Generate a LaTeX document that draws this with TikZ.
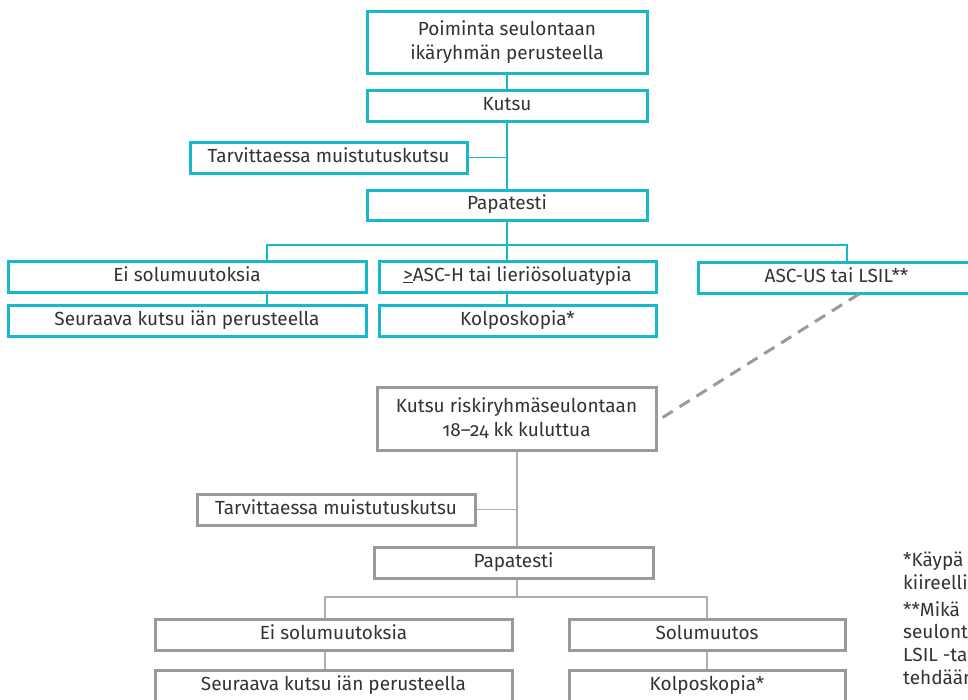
\documentclass[tikz,border=0pt]{standalone}
\usepackage{fontspec}
\setmainfont{Fira Sans}[Numbers=OldStyle]
\definecolor{cy}{HTML}{17B7CC}
\definecolor{gr}{HTML}{9A9A9A}
\definecolor{tx}{HTML}{333333}
\tikzset{
  base/.style={rectangle, inner sep=0pt, text=tx, font=\fontsize{19}{24}\selectfont},
  one/.style={text height=13.5pt, text depth=4pt},
  cbox/.style={base, draw=cy, line width=3pt},
  gbox/.style={base, draw=gr, line width=3pt},
  cline/.style={draw=cy, line width=1.5pt},
  gline/.style={draw=gr!80, line width=1.5pt},
  dline/.style={draw=gr, line width=3pt, dash pattern=on 12pt off 8pt},
  note/.style={anchor=base west, inner sep=0pt, text=tx, font=\fontsize{19}{24}\selectfont}
}
\begin{document}
\begin{tikzpicture}[x=1pt,y=-1pt]
\clip (0,0) rectangle (968,699);
\fill[white] (0,0) rectangle (968,699);
% cyan part
\node[cbox, minimum width=280pt, minimum height=62pt, align=center] (top) at (507,42) {Poiminta seulontaan\\ikäryhmän perusteella};
\node[cbox, one, minimum width=280pt, minimum height=31pt] (kutsu) at (507,105.5) {Kutsu};
\node[cbox, one, minimum width=277pt, minimum height=31pt] (tarv1) at (328.5,157.5) {Tarvittaessa muistutuskutsu};
\node[cbox, one, minimum width=280pt, minimum height=30pt] (papa1) at (507,205) {Papatesti};
\node[cbox, one, minimum width=358pt, minimum height=31pt] (ei1) at (187,276.5) {Ei solumuutoksia};
\node[cbox, one, minimum width=277pt, minimum height=31pt] (asch) at (517.5,276.5) {\underline{>}ASC-H tai lieriösoluatypia};
\node[cbox, one, minimum width=277pt, minimum height=31pt] (ascus) at (836.5,277.5) {ASC-US tai LSIL**};
\node[cbox, one, minimum width=358pt, minimum height=31pt] (seur1) at (187,320.5) {Seuraava kutsu iän perusteella};
\node[cbox, one, minimum width=277pt, minimum height=31pt] (kolp1) at (517.5,320.5) {Kolposkopia*};
% gray part
\node[gbox, minimum width=279pt, minimum height=63pt, align=center] (kr) at (516.5,418.5) {Kutsu riskiryhmäseulontaan\\18–24 kk kuluttua};
\node[gbox, one, minimum width=278pt, minimum height=31pt] (tarv2) at (336,509.5) {Tarvittaessa muistutuskutsu};
\node[gbox, one, minimum width=279pt, minimum height=31pt] (papa2) at (513.5,562.5) {Papatesti};
\node[gbox, one, minimum width=357pt, minimum height=31pt] (ei2) at (333.5,634.5) {Ei solumuutoksia};
\node[gbox, one, minimum width=276pt, minimum height=31pt] (solu) at (707,634.5) {Solumuutos};
\node[gbox, one, minimum width=357pt, minimum height=31pt] (seur2) at (333.5,685.5) {Seuraava kutsu iän perusteella};
\node[gbox, one, minimum width=276pt, minimum height=31pt] (kolp2) at (707,685.5) {Kolposkopia*};
% helper coordinates
\coordinate (xa) at (507,0);
\coordinate (xl) at (267,0);
\coordinate (xr) at (847,0);
\coordinate (xg) at (517,0);
\coordinate (xgl) at (325,0);
\coordinate (xgr) at (707,0);
\coordinate (ya) at (0,245);
\coordinate (yg) at (0,597);
\coordinate (d1) at (859,294);
\coordinate (d2) at (657,421);
% cyan connectors
\draw[cline] (top.south -| xa) -- (kutsu.north -| xa);
\draw[cline] (kutsu.south -| xa) -- (papa1.north -| xa);
\draw[cline] (tarv1.east) -- (tarv1.east -| xa);
\draw[cline] (papa1.south -| xa) -- (asch.north -| xa);
\draw[cline] (ei1.north -| xl) |- (ya -| xa) -| (ascus.north -| xr);
\draw[cline] (ei1.south -| xl) -- (seur1.north -| xl);
\draw[cline] (asch.south -| xa) -- (kolp1.north -| xa);
% dashed link
\draw[dline] (d1) -- (d2);
% gray connectors
\draw[gline] (kr.south -| xg) -- (papa2.north -| xg);
\draw[gline] (tarv2.east) -- (tarv2.east -| xg);
\draw[gline] (papa2.south -| xg) -- (yg -| xg);
\draw[gline] (ei2.north -| xgl) |- (yg -| xgr) -- (solu.north -| xgr);
\draw[gline] (ei2.south -| xgl) -- (seur2.north -| xgl);
\draw[gline] (solu.south -| xgr) -- (kolp2.north -| xgr);
% footnotes
\node[note] (n1) at (903,566) {*Käypä};
\node[note] (n2) at (903,589) {kiireellis};
\node[note] (n3) at (903,616) {**Mikä};
\node[note] (n4) at (903,638) {seulont};
\node[note] (n5) at (903,661) {LSIL -ta};
\node[note] (n6) at (903,684) {tehdään};
\end{tikzpicture}
\end{document}
